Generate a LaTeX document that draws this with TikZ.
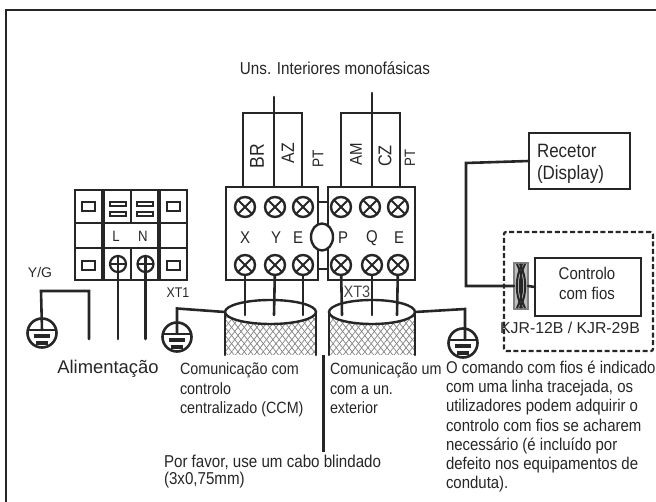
\documentclass[tikz,border=0pt]{standalone}
\usepackage{fontspec}
\setmainfont[FakeStretch=0.88]{Liberation Sans}
\newfontfamily\plainfont{Liberation Sans}
\usetikzlibrary{calc,patterns.meta,shapes.geometric}
\definecolor{wireColor}{HTML}{262626}
\definecolor{hatchColor}{HTML}{808080}
\newcommand{\fs}[1]{\fontsize{#1}{#1}\selectfont}
\tikzset{
	wire/.style={draw=wireColor,line width=2.6pt,line cap=round},
	box/.style={draw=wireColor,line width=2.3pt,outer sep=0,inner sep=0},
	lab/.style={text=wireColor,inner sep=0,outer sep=0},
	note/.style={lab,align=left,anchor=north west,font=\fontsize{16.3}{19.4}\selectfont},
	screw/.style={draw=wireColor,line width=2.4pt,circle,fill=white,minimum size=20pt,inner sep=0,outer sep=0,
		path picture={
			\draw[line width=2pt,wireColor] (path picture bounding box.north west) -- (path picture bounding box.south east);
			\draw[line width=2pt,wireColor] (path picture bounding box.north east) -- (path picture bounding box.south west);}},
	mains/.style={draw=wireColor,line width=2.2pt,circle,minimum size=16pt,inner sep=0,outer sep=0,
		path picture={
			\draw[line width=1.8pt,wireColor] (path picture bounding box.west) -- (path picture bounding box.east);}},
	ground/.style={draw=wireColor,line width=2.6pt,circle,fill=white,minimum size=29pt,inner sep=0,outer sep=0,
		path picture={
			\draw[line width=2.4pt,wireColor] (path picture bounding box.center) ++(-15,-3) -- ++(30,0);
			\draw[line width=3.4pt,wireColor] (path picture bounding box.center) ++(-8,3) -- ++(16,0);
			\draw[line width=3.4pt,wireColor] (path picture bounding box.center) ++(-6,10) -- ++(12,0);}},
	slot/.style={draw=wireColor,line width=2pt,fill=white,inner sep=0,outer sep=0},
	cable/.style={pattern={Lines[angle=52,distance=5pt,line width=.7pt]},pattern color=hatchColor},
	cable2/.style={pattern={Lines[angle=-52,distance=5pt,line width=.7pt]},pattern color=hatchColor},
	mouth/.style={draw=wireColor,line width=2.4pt,ellipse,fill=white,inner sep=0,outer sep=0}
}

\begin{document}
\begin{tikzpicture}[x=1pt,y=-1pt]
	\useasboundingbox (0,0) rectangle (656,502);
	% frame
	\draw[line width=2.6pt,wireColor] (6,502) -- (6,10) -- (656,10);

	% power terminals
	\node[box,line width=2pt,minimum width=112pt,minimum height=90pt] (xt1) at (131,235) {};
	\draw[line width=3.8pt,wireColor] (103,190) -- (103,280);
	\draw[line width=3.8pt,wireColor] (159,190) -- (159,280);
	\draw[line width=2pt,wireColor] (75,223) -- (187,223);
	\draw[line width=2.4pt,wireColor] (75,248) -- (187,248);
	\draw[line width=2pt,wireColor] (131,190) -- (131,223);
	\draw[line width=2pt,wireColor] (131,248) -- (131,280);
	\node[slot,minimum width=13pt,minimum height=9pt] (sl_tl) at (88.5,206.5) {};
	\node[slot,minimum width=13pt,minimum height=9pt] (sl_tr) at (173.5,206.5) {};
	\node[slot,minimum width=13pt,minimum height=9pt] (sl_bl) at (88.5,266) {};
	\node[slot,minimum width=13pt,minimum height=9pt] (sl_br) at (173.5,266) {};
	\node[slot,minimum width=16pt,minimum height=4pt] (sl_l1) at (118,204) {};
	\node[slot,minimum width=16pt,minimum height=4pt] (sl_l2) at (118,214.5) {};
	\node[slot,minimum width=16pt,minimum height=4pt] (sl_n1) at (145,204) {};
	\node[slot,minimum width=16pt,minimum height=4pt] (sl_n2) at (145,214.5) {};
	\node[lab,font=\fs{15}] (lab_l) at (116,236) {L};
	\node[lab,font=\fs{15}] (lab_n) at (143,236) {N};
	\node[mains] (scr_l) at (118,264) {};
	\node[mains] (scr_n) at (145.5,264) {};
	\coordinate (end_l) at (118,339);
	\coordinate (end_n) at (145.5,339);
	\path[wire] (scr_l.north) edge (end_l);
	\path[wire] (scr_n.north) edge (end_n);

	% earth of the supply
	\node[lab,font=\plainfont\fs{14}] (lab_yg) at (40,272) {Y/G};
	\node[ground] (gnd1) at (42,333) {};
	\coordinate (end_yg) at (89,339);
	\draw[wire] (gnd1.center) ++(0,-3) -- (41,291) -- (89,291) -- (end_yg);
	\node[lab,font=\plainfont\fs{18.4}] (lab_ali) at (108,369) {Alimentação};
	\node[lab,font=\fs{14}] (lab_xt1) at (178,293) {XT1};

	% cables
	\path[cable] (225,312) rectangle (316,355);
	\path[cable2] (225,312) rectangle (316,355);
	\path[cable] (329,312) rectangle (415,355);
	\path[cable2] (329,312) rectangle (415,355);
	\node[mouth,minimum width=91pt,minimum height=24pt] (cab_a) at (270.5,312) {};
	\node[mouth,minimum width=86pt,minimum height=24pt] (cab_b) at (372,312) {};
	\coordinate (cab_a1) at (225,355);
	\coordinate (cab_a2) at (316,355);
	\coordinate (cab_b1) at (329,355);
	\coordinate (cab_b2) at (415,355);
	\path[wire] (cab_a.west) edge (cab_a1);
	\path[wire] (cab_a.east) edge (cab_a2);
	\path[wire] (cab_b.west) edge (cab_b1);
	\path[wire] (cab_b.east) edge (cab_b2);

	% communication terminals
	\node[box,minimum width=92pt,minimum height=93pt] (xt_a) at (272,233.5) {};
	\node[box,minimum width=87pt,minimum height=93pt] (xt_b) at (371.5,233.5) {};
	\draw[line width=2.2pt,wireColor] (318,202) -- (328,202);
	\draw[line width=2.2pt,wireColor] (318,269) -- (328,269);
	\node[draw=wireColor,line width=2.4pt,ellipse,fill=white,minimum width=22pt,minimum height=27pt,inner sep=0] (oval) at (322,237) {};
	\node[screw] (s_x_t) at (245,207) {};
	\node[screw] (s_y_t) at (275,207) {};
	\node[screw] (s_e_t) at (303,207) {};
	\node[screw] (s_p_t) at (341,207) {};
	\node[screw] (s_q_t) at (370,207) {};
	\node[screw] (s_f_t) at (398,207) {};
	\node[screw] (s_x_b) at (245,265) {};
	\node[screw] (s_y_b) at (275,265) {};
	\node[screw] (s_e_b) at (303,265) {};
	\node[screw] (s_p_b) at (341,265) {};
	\node[screw] (s_q_b) at (372,265) {};
	\node[screw] (s_f_b) at (398,265) {};
	\node[lab,font=\fs{17}] (lab_x) at (245,238) {X};
	\node[lab,font=\fs{17}] (lab_y) at (276,238) {Y};
	\node[lab,font=\fs{17}] (lab_e) at (298,238) {E};
	\node[lab,font=\fs{17}] (lab_p) at (343,238) {P};
	\node[lab,font=\fs{17}] (lab_q) at (372,238) {Q};
	\node[lab,font=\fs{17}] (lab_f) at (399,238) {E};
	\coordinate (w_x) at (245,315);
	\coordinate (w_y) at (274,315);
	\coordinate (w_e) at (303,315);
	\coordinate (w_p) at (342,315);
	\coordinate (w_q) at (372,315);
	\coordinate (w_f) at (397,315);
	\path[wire] (s_x_b) edge (w_x);
	\path[wire] (s_y_b) edge (w_y);
	\path[wire] (s_e_b) edge (w_e);
	\path[wire] (s_p_b) edge (w_p);
	\path[wire] (s_q_b) edge (w_q);
	\path[wire] (s_f_b) edge (w_f);
	\node[lab,font=\fs{16.5},text=wireColor!85] (lab_xt3) at (357,292) {XT3};

	% wires to the indoor units
	\coordinate (t_br) at (243,187);
	\coordinate (t_pa) at (302,187);
	\coordinate (t_az) at (274,187);
	\coordinate (t_az2) at (274,97);
	\coordinate (t_am) at (341,187);
	\coordinate (t_pb) at (400,187);
	\coordinate (t_cz) at (372,187);
	\coordinate (t_cz2) at (372,93);
	\draw[wire] (t_br) -- (243,113) -- (302,113) -- (t_pa);
	\path[wire] (t_az) edge (t_az2);
	\draw[wire] (t_am) -- (341,113) -- (400,113) -- (t_pb);
	\path[wire] (t_cz) edge (t_cz2);
	\node[lab,rotate=90,font=\fs{20}] (lab_br) at (257,156) {BR};
	\node[lab,rotate=90,font=\fs{18}] (lab_az) at (288,153) {AZ};
	\node[lab,rotate=90,font=\fs{15.5}] (lab_pa) at (318,159) {PT};
	\node[lab,rotate=90,font=\fs{17}] (lab_am) at (356,154) {AM};
	\node[lab,rotate=90,font=\fs{18.5}] (lab_cz) at (385,156) {CZ};
	\node[lab,rotate=90,font=\fs{15}] (lab_pb) at (410,158) {PT};
	\node[lab,font=\fs{17.3}] (lab_uns) at (335,68) {Uns. Interiores monofásicas};

	% earths of the cables
	\node[ground] (gnd2) at (177,337) {};
	\draw[wire] (gnd2.center) ++(0,-4) -- (177,308.5) -- (cab_a.west);
	\node[ground] (gnd3) at (463,343) {};
	\draw[wire] (gnd3.center) ++(2,-4) -- (465,309) -- (cab_b.east);

	% display and wired control
	\node[box,minimum width=101pt,minimum height=56pt] (recetor) at (579.5,161) {};
	\node[lab,align=left,anchor=north west,font=\fontsize{19.3}{22}\selectfont] (lab_rec) at (537,144) {Recetor\\(Display)};
	\node[draw=wireColor,line width=2.2pt,dash pattern=on 5pt off 2.6pt,rounded corners=2pt,minimum width=149pt,minimum height=119pt,inner sep=0,outer sep=0] (dashbox) at (578.5,291.5) {};
	\node[box,minimum width=106pt,minimum height=58pt] (ctrl) at (588,287) {};
	\node[lab,align=center,font=\fontsize{17}{20}\selectfont] (lab_ctrl) at (587,283) {Controlo\\com fios};
	\node[draw=hatchColor,fill=hatchColor!50,line width=1.2pt,minimum width=14pt,minimum height=46pt,inner sep=0,outer sep=0] (conn) at (521,286) {};
	\draw[line width=2pt,wireColor] (517,264) .. controls (524,278) and (524,294) .. (517,308);
	\draw[line width=2pt,wireColor] (520,264) .. controls (527,278) and (527,294) .. (520,308);
	\draw[line width=2pt,wireColor] (525,264) .. controls (518,278) and (518,294) .. (525,308);
	\draw[line width=2pt,wireColor] (522,264) .. controls (515,278) and (515,294) .. (522,308);
	\draw[wire] (recetor.west) -- (466,163) -- (466,286) -- (conn.west);
	\path[wire] (conn.east) edge (ctrl.west);
	\node[lab,font=\plainfont\fs{15.8}] (lab_kjr) at (570,328) {KJR-12B / KJR-29B};

	% notes
	\node[note] (nt_ccm) at (180,363) {Comunicação com\\controlo\\centralizado (CCM)};
	\node[note] (nt_ext) at (330,363) {Comunicação um\\com a un.\\exterior};
	\coordinate (sep_t) at (323,355);
	\coordinate (sep_b) at (323,452);
	\path[line width=3pt,draw=wireColor] (sep_t) edge (sep_b);
	\node[lab,align=left,anchor=north west,font=\fontsize{17.2}{17}\selectfont] (nt_cabo) at (164,455) {Por favor, use um cabo blindado\\(3x0,75mm)};
	\node[lab,align=left,anchor=north west,font=\fontsize{17}{19.2}\selectfont] (nt_cmd) at (446,361) {O comando com fios é indicado\\com uma linha tracejada, os\\utilizadores podem adquirir o\\controlo com fios se acharem\\necessário (é incluído por\\defeito nos equipamentos de\\conduta).};
\end{tikzpicture}
\end{document}
